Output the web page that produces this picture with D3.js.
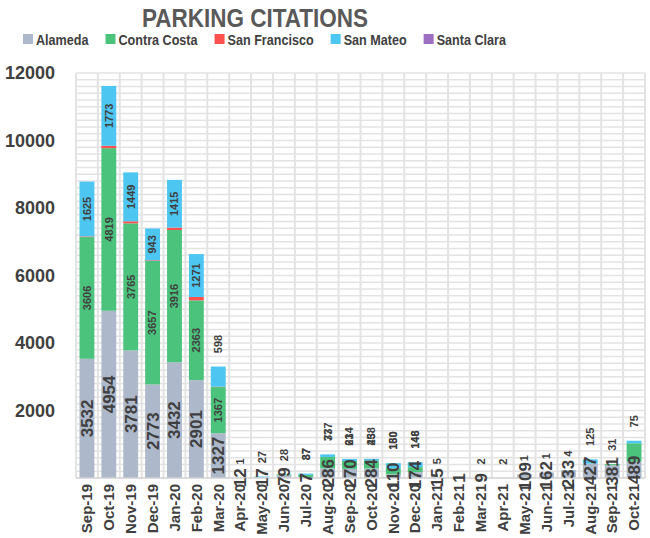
<!DOCTYPE html>
<html>
<head>
<meta charset="utf-8">
<script src="https://cdn.jsdelivr.net/npm/d3@7"></script>
<style>
  body { margin: 0; background: #fff; }
  svg { font-family: "Liberation Sans", Arial, sans-serif; font-weight: bold; }
</style>
</head>
<body>
<div id="chart"></div>
<script>
// Données
const months = ['Sep-19', 'Oct-19', 'Nov-19', 'Dec-19', 'Jan-20', 'Feb-20', 'Mar-20', 'Apr-20', 'May-20',
    'Jun-20', 'Jul-20', 'Aug-20', 'Sep-20', 'Oct-20', 'Nov-20', 'Dec-20', 'Jan-21', 'Feb-21', 'Mar-21',
    'Apr-21', 'May-21', 'Jun-21', 'Jul-21', 'Aug-21', 'Sep-21', 'Oct-21'];
const alameda = [3532, 4954, 3781, 2773, 3432, 2901, 1327, 12, 17, 79, 7, 286, 270, 284, 110, 174, 15, 1, 9,
    0, 109, 162, 233, 427, 381, 489];
const contraCosta = [3606, 4819, 3765, 3657, 3916, 2363, 1367, 0, 0, 28, 87, 337, 234, 238, 180, 148, 0, 0, 0,
    0, 0, 0, 0, 0, 31, 540];
const sanFrancisco = [20, 70, 60, 20, 70, 100, 10, 0, 0, 0, 0, 0, 0, 0, 0, 0, 0, 0, 0, 0, 0, 0, 0, 0, 0, 0];
const sanMateo = [1625, 1773, 1449, 943, 1415, 1271, 598, 1, 27, 0, 37, 77, 61, 45, 150, 146, 5, 0, 2, 2, 1, 1,
    4, 125, 0, 75];
const santaClara = [0, 0, 0, 0, 0, 0, 0, 0, 0, 0, 0, 0, 0, 0, 0, 0, 0, 0, 0, 0, 0, 0, 0, 0, 0, 0];
const counties = ['Alameda', 'Contra Costa', 'San Francisco', 'San Mateo', 'Santa Clara'];
const yTicks = [2000, 4000, 6000, 8000, 10000, 12000];
const hiddenLabels = ['Oct-21|Contra Costa'];

const colors = {
    'Alameda': '#adb9ca',
    'Contra Costa': '#4cc37c',
    'San Francisco': '#ff5050',
    'San Mateo': '#4dc6f1',
    'Santa Clara': '#9c6fc2'
};
const seriesValues = [alameda, contraCosta, sanFrancisco, sanMateo, santaClara];

const rows = months.map((m, i) => {
    const row = { month: m };
    counties.forEach((c, k) => { row[c] = seriesValues[k][i]; });
    return row;
});

const width = 650, height = 538;
const plot = { left: 76, right: 645, top: 73, bottom: 478 };

const svg = d3.select('#chart').append('svg')
    .attr('width', width)
    .attr('height', height);

const x = d3.scaleBand()
    .domain(months)
    .range([plot.left, plot.right])
    .paddingInner(0.32)
    .paddingOuter(0.16);

const y = d3.scaleLinear()
    .domain([0, 12000])
    .range([plot.bottom, plot.top]);

// Grille
const grid = svg.append('g');
grid.selectAll('line.h')
    .data(d3.range(200, 12001, 200))
    .enter().append('line')
    .attr('x1', plot.left).attr('x2', plot.right)
    .attr('y1', d => y(d)).attr('y2', d => y(d))
    .attr('stroke', '#e3e3e3')
    .attr('stroke-width', 1.5);

const step = x.step();
grid.selectAll('line.v')
    .data(d3.range(months.length + 1))
    .enter().append('line')
    .attr('x1', i => plot.left + i * step).attr('x2', i => plot.left + i * step)
    .attr('y1', plot.top).attr('y2', plot.bottom)
    .attr('stroke', '#e3e3e3')
    .attr('stroke-width', 2);

// Barres empilées
const stack = d3.stack().keys(counties);
const layers = stack(rows);

svg.append('g')
    .selectAll('g')
    .data(layers)
    .enter().append('g')
    .attr('fill', d => colors[d.key])
    .selectAll('rect')
    .data(d => d)
    .enter().append('rect')
    .attr('x', d => x(d.data.month))
    .attr('y', d => y(d[1]))
    .attr('width', x.bandwidth())
    .attr('height', d => y(d[0]) - y(d[1]));

// Axe X
svg.append('line')
    .attr('x1', plot.left).attr('x2', plot.right)
    .attr('y1', plot.bottom).attr('y2', plot.bottom)
    .attr('stroke', '#d0d0d0')
    .attr('stroke-width', 1.5);

const xAxis = svg.append('g')
    .attr('transform', `translate(0,${plot.bottom})`)
    .call(d3.axisBottom(x).tickSize(0).tickPadding(0));
xAxis.select('.domain').remove();
xAxis.selectAll('text')
    .attr('transform', 'rotate(-90)')
    .attr('x', -6)
    .attr('y', 0)
    .attr('dy', '0.35em')
    .style('text-anchor', 'end')
    .style('font-size', '15px')
    .style('font-family', '"Liberation Sans", Arial, sans-serif')
    .style('font-weight', 'bold')
    .attr('fill', '#404040');

// Axe Y
const yAxis = svg.append('g')
    .attr('transform', `translate(${plot.left - 21},0)`)
    .call(d3.axisLeft(y).tickValues(yTicks).tickSize(0).tickPadding(0).tickFormat(d3.format('d')));
yAxis.select('.domain').remove();
yAxis.selectAll('text')
    .style('font-size', '18px')
    .style('font-family', '"Liberation Sans", Arial, sans-serif')
    .style('font-weight', 'bold')
    .attr('fill', '#404040');

// Étiquettes de valeurs
const labels = svg.append('g');
layers.forEach(layer => {
    if (layer.key === 'San Francisco' || layer.key === 'Santa Clara') return;
    const big = layer.key === 'Alameda';
    const fs = big ? 17 : 11;
    layer.forEach(d => {
        const v = d.data[layer.key];
        if (!v) return;
        if (hiddenLabels.includes(d.data.month + '|' + layer.key)) return;
        const txt = String(v);
        const len = txt.length * fs * 0.58;
        const y0 = y(d[0]), y1 = y(d[1]);
        let cy = (y0 + y1) / 2;
        if (!big && len + 4 > y0 - y1) {
            // trop petit : au-dessus de la barre
            const top = y(d.data.Alameda + d.data['Contra Costa'] + d.data['San Francisco'] + d.data['San Mateo']);
            cy = top - 13 - len / 2;
        }
        const cx = x(d.data.month) + x.bandwidth() / 2;
        labels.append('text')
            .attr('transform', `translate(${cx},${cy}) rotate(-90)`)
            .attr('text-anchor', 'middle')
            .attr('dy', '0.35em')
            .style('font-size', fs + 'px')
            .attr('fill', '#404040')
            .text(txt);
    });
});

// Titre
svg.append('text')
    .attr('transform', 'translate(255,27) scale(0.9,1)')
    .attr('text-anchor', 'middle')
    .style('font-size', '25px')
    .attr('fill', '#595959')
    .text('PARKING CITATIONS');

// Légende
const legend = svg.append('g');
let lx = 23;
counties.forEach(c => {
    legend.append('rect')
        .attr('x', lx).attr('y', 34)
        .attr('width', 10).attr('height', 10)
        .attr('fill', colors[c]);
    const t = legend.append('text')
        .attr('transform', `translate(${lx + 13},45) scale(0.84,1)`)
        .style('font-size', '15px')
        .attr('fill', '#404040')
        .text(c);
    lx += 13 + t.node().getComputedTextLength() * 0.84 + 17;
});
</script>
</body>
</html>
